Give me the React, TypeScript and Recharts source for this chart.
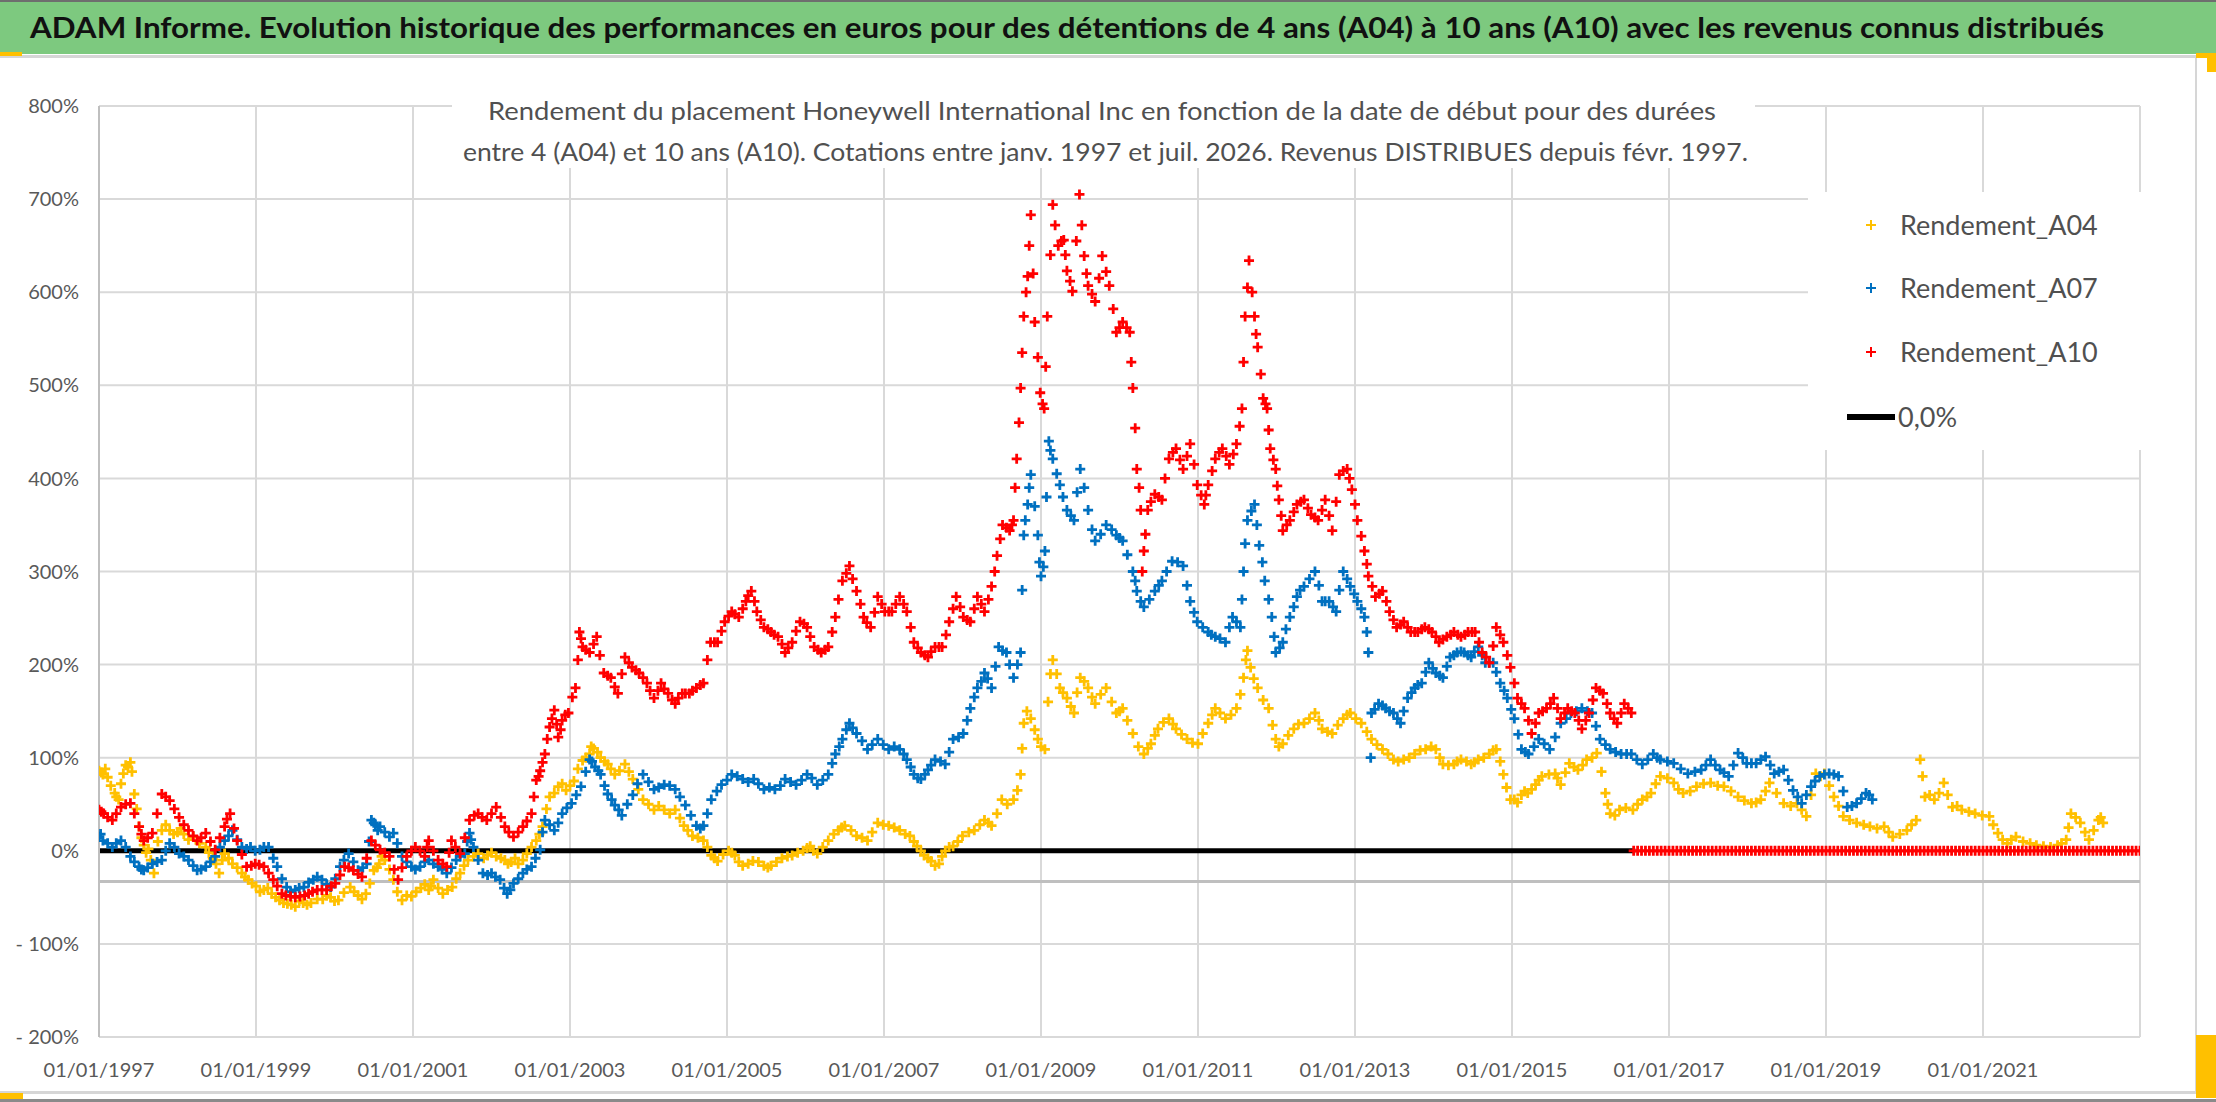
import React from "react";
import { ComposedChart, Scatter, Line, XAxis, YAxis, CartesianGrid } from "recharts";

// axis ticks
const X_TICKS = [1997, 1999, 2001, 2003, 2005, 2007, 2009, 2011, 2013, 2015, 2017, 2019, 2021];
const Y_TICKS = [-200, -100, 0, 100, 200, 300, 400, 500, 600, 700, 800];
const AXIS_CROSS = -33;

// [start date (decimal year), return %] read along the centre of each band
const A04: [number, number][] = [
  [1997.0, 86], [1997.05, 82], [1997.11, 79], [1997.2, 62], [1997.25, 55], [1997.31, 83], [1997.37, 90],
  [1997.4, 95], [1997.45, 61], [1997.51, 26], [1997.57, 6], [1997.63, 2], [1997.7, -24], [1997.8, 22],
  [1997.9, 22], [1998.0, 20], [1998.08, 18], [1998.2, 15], [1998.36, 4], [1998.45, -8], [1998.53, -24],
  [1998.6, -3], [1998.7, -14], [1998.82, -24], [1998.9, -31], [1999.0, -38], [1999.1, -42], [1999.2, -46],
  [1999.3, -53], [1999.4, -57], [1999.5, -60], [1999.6, -56], [1999.7, -56], [1999.85, -52], [1999.95, -50],
  [2000.05, -53], [2000.2, -39], [2000.3, -48], [2000.4, -46], [2000.5, -21], [2000.57, -14], [2000.64, -10],
  [2000.75, -31], [2000.86, -53], [2000.98, -49], [2001.1, -40], [2001.2, -42], [2001.26, -31], [2001.38, -46],
  [2001.5, -39], [2001.6, -24], [2001.7, -10], [2001.83, -3], [2001.95, -5], [2002.06, -6], [2002.17, -10],
  [2002.25, -12], [2002.34, -14], [2002.45, -3], [2002.57, 11], [2002.65, 26], [2002.74, 58], [2002.85, 69],
  [2002.95, 65], [2003.05, 75], [2003.16, 97], [2003.25, 104], [2003.3, 110], [2003.39, 100], [2003.48, 93],
  [2003.57, 82], [2003.7, 93], [2003.8, 77], [2003.93, 55], [2004.07, 44], [2004.2, 44], [2004.34, 44],
  [2004.45, 27], [2004.56, 16], [2004.7, 11], [2004.8, -5], [2004.88, -11], [2005.02, 0], [2005.1, -5],
  [2005.2, -16], [2005.33, -11], [2005.47, -16], [2005.56, -16], [2005.7, -8], [2005.83, -5], [2005.97, 0],
  [2006.06, 5], [2006.15, -3], [2006.29, 11], [2006.42, 22], [2006.5, 27], [2006.65, 16], [2006.79, 11],
  [2006.92, 30], [2007.06, 27], [2007.2, 22], [2007.33, 16], [2007.42, 5], [2007.51, -5], [2007.6, -11],
  [2007.7, -14], [2007.78, 0], [2007.88, 5], [2008.0, 16], [2008.15, 22], [2008.28, 33], [2008.37, 27],
  [2008.5, 55], [2008.65, 55], [2008.74, 82], [2008.78, 137], [2008.87, 142], [2008.96, 120], [2009.05, 109],
  [2009.12, 190], [2009.15, 205], [2009.24, 175], [2009.33, 164], [2009.42, 148], [2009.5, 186], [2009.6, 175],
  [2009.69, 158], [2009.83, 175], [2009.96, 148], [2010.04, 153], [2010.17, 126], [2010.31, 104], [2010.4, 115],
  [2010.49, 131], [2010.63, 142], [2010.72, 131], [2010.86, 120], [2011.0, 115], [2011.13, 137], [2011.22, 153],
  [2011.35, 142], [2011.49, 153], [2011.58, 186], [2011.63, 215], [2011.67, 197], [2011.76, 175], [2011.9, 153],
  [2011.99, 120], [2012.08, 115], [2012.22, 131], [2012.35, 137], [2012.49, 148], [2012.58, 131], [2012.71, 126],
  [2012.85, 142], [2012.94, 148], [2013.08, 137], [2013.21, 120], [2013.35, 109], [2013.49, 98], [2013.62, 98],
  [2013.76, 104], [2013.9, 109], [2014.03, 109], [2014.12, 93], [2014.26, 93], [2014.35, 98], [2014.48, 93],
  [2014.57, 98], [2014.71, 104], [2014.8, 109], [2014.89, 82], [2014.98, 55], [2015.03, 55], [2015.12, 60],
  [2015.2, 62], [2015.3, 71], [2015.38, 80], [2015.55, 83], [2015.62, 71], [2015.73, 94], [2015.84, 87],
  [2015.95, 98], [2016.08, 105], [2016.19, 62], [2016.25, 40], [2016.37, 44], [2016.54, 44], [2016.66, 55],
  [2016.77, 62], [2016.89, 80], [2017.06, 73], [2017.18, 62], [2017.35, 69], [2017.53, 73], [2017.7, 69],
  [2017.88, 58], [2018.05, 51], [2018.17, 55], [2018.28, 73], [2018.46, 51], [2018.63, 51], [2018.75, 37],
  [2018.87, 83], [2018.98, 83], [2019.1, 58], [2019.22, 37], [2019.39, 30], [2019.56, 26], [2019.74, 26],
  [2019.85, 15], [2020.03, 22], [2020.15, 33], [2020.2, 98], [2020.26, 58], [2020.38, 55], [2020.5, 73],
  [2020.61, 47], [2020.73, 44], [2020.9, 40], [2021.08, 37], [2021.19, 19], [2021.31, 8], [2021.42, 15],
  [2021.6, 8], [2021.77, 5], [2021.95, 6], [2022.06, 12], [2022.12, 40], [2022.24, 30], [2022.35, 12],
  [2022.47, 33], [2022.53, 30],
];

// extra A04 readings between the ones above (spread of the daily band)
const A04_B: [number, number][] = [
  [1997.03, 84], [1997.08, 88], [1997.15, 70], [1997.22, 58], [1997.28, 72], [1997.34, 92], [1997.42, 85],
  [1997.48, 45], [1997.54, 14], [1997.6, -2], [1997.66, -10], [1997.75, 10], [1997.85, 28], [1997.95, 18],
  [1998.04, 24], [1998.14, 12], [1998.28, 8], [1998.4, -2], [1998.49, -14], [1998.57, -10], [1998.65, -8],
  [1998.76, -18], [1998.86, -28], [1998.95, -35], [1999.05, -44], [1999.15, -40], [1999.25, -50], [1999.35, -56],
  [1999.45, -58], [1999.55, -54], [1999.65, -58], [1999.78, -52], [1999.9, -48], [2000.0, -54], [2000.12, -45],
  [2000.25, -44], [2000.35, -52], [2000.45, -35], [2000.54, -18], [2000.6, -6], [2000.7, -20], [2000.8, -44],
  [2000.92, -48], [2001.04, -44], [2001.15, -36], [2001.23, -38], [2001.32, -40], [2001.44, -42], [2001.55, -30],
  [2001.65, -16], [2001.77, -6], [2001.9, -8], [2002.0, -2], [2002.12, -8], [2002.21, -14], [2002.3, -8],
  [2002.4, -10], [2002.51, 4], [2002.61, 18], [2002.7, 45], [2002.8, 62], [2002.9, 72], [2003.0, 70],
  [2003.1, 88], [2003.2, 100], [2003.27, 112], [2003.35, 106], [2003.44, 96], [2003.52, 88], [2003.63, 86],
  [2003.75, 85], [2003.87, 66], [2004.0, 50], [2004.13, 48], [2004.27, 40], [2004.4, 35], [2004.5, 22],
  [2004.63, 14], [2004.75, 4], [2004.84, -8], [2004.95, -4], [2005.06, -2], [2005.15, -12], [2005.27, -14],
  [2005.4, -12], [2005.52, -18], [2005.63, -12], [2005.77, -6], [2005.9, -2], [2006.02, 3], [2006.1, 0],
  [2006.22, 4], [2006.36, 18], [2006.46, 25], [2006.58, 22], [2006.72, 14], [2006.85, 20], [2006.99, 28],
  [2007.13, 25], [2007.27, 18], [2007.38, 10], [2007.47, 0], [2007.56, -8], [2007.65, -16], [2007.74, -6],
  [2007.83, 4], [2007.94, 10], [2008.08, 20], [2008.22, 28], [2008.33, 30], [2008.44, 40], [2008.57, 50],
  [2008.7, 65], [2008.76, 110], [2008.82, 150], [2008.92, 130], [2009.0, 112], [2009.09, 160], [2009.2, 190],
  [2009.28, 170], [2009.38, 155], [2009.46, 170], [2009.55, 182], [2009.65, 165], [2009.76, 168], [2009.9, 160],
  [2010.0, 150], [2010.1, 140], [2010.24, 112], [2010.36, 110], [2010.45, 124], [2010.56, 138], [2010.68, 136],
  [2010.79, 125], [2010.93, 116], [2011.06, 126], [2011.18, 146], [2011.28, 148], [2011.42, 146], [2011.54, 168],
  [2011.61, 205], [2011.71, 185], [2011.83, 162], [2011.95, 135], [2012.03, 112], [2012.15, 124], [2012.28, 136],
  [2012.42, 142], [2012.54, 140], [2012.65, 128], [2012.78, 135], [2012.9, 146], [2013.01, 142], [2013.15, 128],
  [2013.28, 114], [2013.42, 104], [2013.55, 96], [2013.69, 100], [2013.83, 108], [2013.97, 112], [2014.08, 100],
  [2014.19, 92], [2014.3, 96], [2014.42, 96], [2014.52, 95], [2014.64, 100], [2014.76, 108], [2014.85, 96],
  [2014.93, 68], [2015.07, 52], [2015.16, 64], [2015.25, 66], [2015.34, 76], [2015.47, 82], [2015.58, 78],
  [2015.68, 84], [2015.79, 90], [2015.9, 92], [2016.02, 100], [2016.14, 85], [2016.22, 50], [2016.31, 38],
  [2016.45, 46], [2016.6, 50], [2016.72, 58], [2016.83, 72], [2016.98, 78], [2017.12, 66], [2017.27, 64],
  [2017.44, 72], [2017.62, 70], [2017.79, 64], [2017.96, 54], [2018.11, 52], [2018.23, 64], [2018.37, 62],
  [2018.55, 48], [2018.69, 44], [2018.81, 60], [2018.93, 80], [2019.04, 70], [2019.16, 48], [2019.3, 33],
  [2019.48, 28], [2019.65, 24], [2019.8, 20], [2019.94, 18], [2020.09, 28], [2020.23, 80], [2020.32, 60],
  [2020.44, 62], [2020.55, 60], [2020.67, 48], [2020.82, 42], [2020.99, 38], [2021.13, 28], [2021.25, 12],
  [2021.36, 12], [2021.51, 10], [2021.68, 6], [2021.86, 4], [2022.0, 8], [2022.09, 25], [2022.18, 36],
  [2022.3, 20], [2022.41, 22], [2022.5, 36],
];

const A07: [number, number][] = [
  [1997.0, 15], [1997.05, 11], [1997.17, 4], [1997.28, 11], [1997.4, -6], [1997.51, -17], [1997.57, -21],
  [1997.68, -14], [1997.8, -10], [1997.9, 8], [1998.02, -3], [1998.14, -10], [1998.25, -21], [1998.36, -17],
  [1998.48, -6], [1998.6, 11], [1998.7, 22], [1998.82, 4], [1998.93, 4], [1999.05, 1], [1999.16, 4],
  [1999.27, -17], [1999.39, -39], [1999.5, -42], [1999.61, -39], [1999.73, -31], [1999.84, -31], [1999.95, -39],
  [2000.07, -17], [2000.18, -3], [2000.3, -21], [2000.41, -14], [2000.47, 33], [2000.52, 28], [2000.58, 26],
  [2000.7, 15], [2000.75, 19], [2000.86, -6], [2000.98, -17], [2001.09, -17], [2001.2, -10], [2001.32, -17],
  [2001.43, -24], [2001.55, -10], [2001.66, -3], [2001.72, 19], [2001.77, 4], [2001.89, -24], [2002.0, -24],
  [2002.11, -31], [2002.2, -46], [2002.28, -35], [2002.4, -24], [2002.51, -17], [2002.62, 1], [2002.68, 33],
  [2002.8, 22], [2002.9, 40], [2003.02, 51], [2003.14, 69], [2003.25, 98], [2003.32, 90], [2003.39, 82],
  [2003.48, 61], [2003.57, 49], [2003.66, 38], [2003.8, 60], [2003.93, 82], [2004.07, 66], [2004.2, 71],
  [2004.34, 66], [2004.47, 49], [2004.61, 27], [2004.7, 27], [2004.8, 55], [2004.93, 71], [2005.06, 82],
  [2005.2, 77], [2005.34, 77], [2005.47, 66], [2005.61, 66], [2005.74, 77], [2005.88, 71], [2006.02, 82],
  [2006.15, 71], [2006.29, 82], [2006.38, 104], [2006.47, 120], [2006.56, 137], [2006.65, 126], [2006.79, 109],
  [2006.92, 120], [2007.06, 109], [2007.2, 109], [2007.29, 98], [2007.38, 82], [2007.47, 77], [2007.56, 87],
  [2007.65, 98], [2007.78, 93], [2007.88, 120], [2008.01, 126], [2008.1, 153], [2008.19, 175], [2008.28, 191],
  [2008.37, 175], [2008.46, 219], [2008.56, 213], [2008.65, 186], [2008.74, 213], [2008.78, 339], [2008.83, 372],
  [2008.87, 404], [2008.96, 339], [2009.0, 295], [2009.05, 322], [2009.1, 440], [2009.15, 421], [2009.24, 393],
  [2009.33, 366], [2009.42, 355], [2009.5, 410], [2009.6, 366], [2009.69, 333], [2009.83, 350], [2009.96, 339],
  [2010.04, 333], [2010.17, 300], [2010.22, 279], [2010.31, 262], [2010.45, 279], [2010.54, 290], [2010.67, 311],
  [2010.81, 306], [2010.9, 268], [2010.99, 246], [2011.13, 235], [2011.22, 230], [2011.35, 224], [2011.44, 251],
  [2011.54, 240], [2011.58, 300], [2011.63, 355], [2011.72, 372], [2011.78, 328], [2011.85, 290], [2011.94, 251],
  [2011.99, 213], [2012.08, 224], [2012.17, 251], [2012.26, 273], [2012.35, 284], [2012.49, 300], [2012.58, 268],
  [2012.67, 268], [2012.76, 257], [2012.85, 300], [2012.94, 284], [2013.03, 268], [2013.12, 251], [2013.17, 213],
  [2013.2, 100], [2013.21, 148], [2013.3, 158], [2013.39, 153], [2013.49, 148], [2013.58, 137], [2013.67, 164],
  [2013.76, 175], [2013.85, 180], [2013.94, 202], [2014.03, 191], [2014.12, 186], [2014.21, 208], [2014.3, 213],
  [2014.39, 213], [2014.48, 208], [2014.57, 219], [2014.66, 202], [2014.76, 202], [2014.85, 180], [2014.94, 164],
  [2015.03, 142], [2015.12, 109], [2015.21, 104], [2015.34, 120], [2015.48, 109], [2015.62, 137], [2015.75, 148],
  [2015.89, 153], [2016.02, 148], [2016.12, 120], [2016.25, 109], [2016.39, 104], [2016.52, 104], [2016.66, 93],
  [2016.8, 104], [2016.89, 98], [2017.06, 94], [2017.24, 83], [2017.41, 87], [2017.53, 98], [2017.65, 87],
  [2017.76, 80], [2017.88, 105], [2017.99, 94], [2018.11, 94], [2018.23, 101], [2018.34, 83], [2018.46, 87],
  [2018.58, 65], [2018.69, 51], [2018.81, 69], [2018.92, 80], [2019.04, 83], [2019.16, 80], [2019.27, 47],
  [2019.39, 51], [2019.51, 62], [2019.59, 55],
];

const A07_B: [number, number][] = [
  [1997.02, 18], [1997.11, 8], [1997.22, 8], [1997.34, 4], [1997.45, -12], [1997.54, -20], [1997.62, -18],
  [1997.74, -12], [1997.85, 0], [1997.96, 4], [1998.08, -6], [1998.2, -16], [1998.3, -20], [1998.42, -12],
  [1998.54, 4], [1998.65, 16], [1998.76, 12], [1998.88, 2], [1998.99, 0], [1999.1, 4], [1999.22, -8],
  [1999.33, -30], [1999.44, -44], [1999.55, -40], [1999.67, -34], [1999.78, -28], [1999.9, -36], [2000.01, -30],
  [2000.12, -10], [2000.24, -12], [2000.36, -18], [2000.44, 10], [2000.5, 30], [2000.55, 22], [2000.64, 20],
  [2000.8, 8], [2000.92, -12], [2001.03, -20], [2001.15, -12], [2001.26, -14], [2001.37, -20], [2001.49, -18],
  [2001.6, -6], [2001.69, 10], [2001.74, 12], [2001.83, -10], [2001.95, -26], [2002.05, -28], [2002.16, -40],
  [2002.24, -42], [2002.34, -30], [2002.45, -20], [2002.56, -8], [2002.65, 20], [2002.74, 28], [2002.85, 30],
  [2002.96, 46], [2003.08, 60], [2003.2, 85], [2003.28, 96], [2003.36, 86], [2003.44, 70], [2003.53, 55],
  [2003.62, 44], [2003.73, 50], [2003.86, 72], [2004.0, 74], [2004.13, 68], [2004.27, 70], [2004.4, 58],
  [2004.54, 38], [2004.66, 24], [2004.75, 40], [2004.87, 64], [2005.0, 76], [2005.13, 80], [2005.27, 74],
  [2005.4, 72], [2005.54, 68], [2005.68, 70], [2005.81, 74], [2005.95, 76], [2006.08, 78], [2006.22, 76],
  [2006.34, 94], [2006.43, 112], [2006.52, 130], [2006.6, 132], [2006.72, 118], [2006.85, 114], [2006.99, 114],
  [2007.13, 112], [2007.25, 104], [2007.34, 90], [2007.43, 78], [2007.52, 82], [2007.6, 92], [2007.72, 96],
  [2007.83, 106], [2007.95, 122], [2008.06, 140], [2008.15, 165], [2008.24, 182], [2008.32, 185], [2008.42, 198],
  [2008.51, 215], [2008.6, 200], [2008.7, 200], [2008.76, 280], [2008.8, 355], [2008.85, 390], [2008.92, 370],
  [2008.98, 310], [2009.03, 305], [2009.07, 380], [2009.12, 430], [2009.2, 405], [2009.28, 380], [2009.38, 360],
  [2009.46, 385], [2009.55, 390], [2009.65, 345], [2009.76, 340], [2009.9, 345], [2010.0, 336], [2010.1, 318],
  [2010.2, 290], [2010.27, 268], [2010.38, 270], [2010.5, 285], [2010.6, 300], [2010.74, 310], [2010.86, 285],
  [2010.95, 256], [2011.06, 240], [2011.17, 232], [2011.28, 228], [2011.4, 240], [2011.49, 246], [2011.56, 270],
  [2011.6, 330], [2011.68, 365], [2011.75, 350], [2011.82, 310], [2011.9, 270], [2011.97, 230], [2012.04, 218],
  [2012.12, 238], [2012.22, 262], [2012.3, 280], [2012.42, 292], [2012.54, 285], [2012.62, 268], [2012.72, 262],
  [2012.8, 280], [2012.9, 292], [2012.99, 276], [2013.08, 260], [2013.15, 235], [2013.25, 152], [2013.35, 156],
  [2013.44, 150], [2013.54, 142], [2013.62, 150], [2013.72, 170], [2013.8, 178], [2013.9, 192], [2013.99, 196],
  [2014.08, 188], [2014.17, 198], [2014.26, 210], [2014.35, 214], [2014.44, 210], [2014.52, 214], [2014.62, 210],
  [2014.71, 202], [2014.8, 192], [2014.9, 172], [2014.99, 152], [2015.08, 125], [2015.17, 106], [2015.28, 112],
  [2015.41, 115], [2015.55, 122], [2015.69, 142], [2015.82, 150], [2015.96, 150], [2016.07, 134], [2016.19, 114],
  [2016.32, 106], [2016.46, 104], [2016.59, 98], [2016.73, 98], [2016.85, 100], [2016.98, 96], [2017.15, 88],
  [2017.33, 85], [2017.47, 92], [2017.59, 92], [2017.7, 84], [2017.82, 92], [2017.94, 100], [2018.05, 94],
  [2018.17, 98], [2018.29, 92], [2018.4, 85], [2018.52, 76], [2018.64, 58], [2018.75, 60], [2018.86, 75],
  [2018.98, 82], [2019.1, 82], [2019.22, 64], [2019.33, 48], [2019.45, 56], [2019.55, 60],
];

const A10: [number, number][] = [
  [1997.0, 44], [1997.06, 40], [1997.17, 33], [1997.28, 47], [1997.4, 51], [1997.51, 26], [1997.57, 11],
  [1997.68, 19], [1997.8, 61], [1997.9, 54], [1998.02, 36], [1998.14, 22], [1998.25, 11], [1998.36, 19],
  [1998.48, 1], [1998.6, 26], [1998.67, 40], [1998.76, 11], [1998.88, -17], [1998.99, -14], [1999.1, -17],
  [1999.22, -31], [1999.33, -46], [1999.44, -49], [1999.56, -49], [1999.67, -46], [1999.78, -42], [1999.9, -42],
  [2000.01, -35], [2000.13, -17], [2000.24, -21], [2000.35, -28], [2000.47, 11], [2000.58, 1], [2000.7, -6],
  [2000.81, -31], [2000.92, -6], [2001.03, 4], [2001.15, -6], [2001.2, 11], [2001.32, -10], [2001.43, -17],
  [2001.49, 11], [2001.6, -3], [2001.72, 33], [2001.83, 40], [2001.94, 33], [2002.06, 47], [2002.17, 26],
  [2002.28, 15], [2002.4, 26], [2002.51, 40], [2002.57, 76], [2002.62, 86], [2002.68, 104], [2002.74, 133],
  [2002.8, 151], [2002.85, 122], [2002.9, 140], [2002.98, 148], [2003.07, 175], [2003.12, 235], [2003.16, 219],
  [2003.25, 213], [2003.34, 230], [2003.43, 191], [2003.52, 186], [2003.61, 169], [2003.7, 208], [2003.79, 197],
  [2003.88, 191], [2003.98, 180], [2004.07, 164], [2004.16, 180], [2004.25, 169], [2004.34, 158], [2004.43, 169],
  [2004.52, 169], [2004.61, 175], [2004.7, 180], [2004.79, 224], [2004.88, 224], [2004.97, 246], [2005.06, 257],
  [2005.15, 251], [2005.24, 268], [2005.31, 279], [2005.38, 257], [2005.47, 240], [2005.56, 235], [2005.65, 230],
  [2005.74, 213], [2005.83, 224], [2005.93, 246], [2006.02, 240], [2006.11, 219], [2006.2, 213], [2006.29, 219],
  [2006.38, 251], [2006.47, 290], [2006.56, 306], [2006.65, 279], [2006.74, 251], [2006.83, 240], [2006.92, 273],
  [2007.01, 257], [2007.1, 257], [2007.2, 273], [2007.29, 257], [2007.38, 224], [2007.47, 213], [2007.56, 208],
  [2007.65, 219], [2007.74, 219], [2007.83, 246], [2007.92, 273], [2008.01, 251], [2008.1, 246], [2008.19, 273],
  [2008.28, 257], [2008.37, 284], [2008.44, 317], [2008.51, 350], [2008.6, 344], [2008.65, 355], [2008.69, 421],
  [2008.74, 497], [2008.78, 574], [2008.83, 617], [2008.87, 683], [2008.92, 568], [2008.99, 492], [2009.04, 475],
  [2009.08, 574], [2009.15, 694], [2009.22, 650], [2009.29, 656], [2009.33, 623], [2009.4, 601], [2009.49, 705],
  [2009.55, 639], [2009.6, 607], [2009.69, 590], [2009.78, 639], [2009.87, 607], [2009.96, 557], [2010.04, 568],
  [2010.13, 557], [2010.17, 497], [2010.2, 454], [2010.22, 410], [2010.27, 366], [2010.29, 300], [2010.31, 322],
  [2010.36, 366], [2010.45, 383], [2010.54, 377], [2010.63, 421], [2010.72, 432], [2010.81, 410], [2010.9, 437],
  [2010.99, 393], [2011.08, 372], [2011.13, 393], [2011.22, 421], [2011.31, 432], [2011.4, 415], [2011.49, 437],
  [2011.56, 475], [2011.6, 574], [2011.65, 634], [2011.72, 574], [2011.76, 541], [2011.83, 486], [2011.88, 475],
  [2011.92, 432], [2011.99, 410], [2012.03, 377], [2012.08, 344], [2012.17, 355], [2012.26, 372], [2012.35, 377],
  [2012.44, 361], [2012.53, 355], [2012.62, 377], [2012.71, 344], [2012.8, 404], [2012.9, 410], [2012.96, 388],
  [2013.03, 355], [2013.12, 322], [2013.17, 295], [2013.26, 273], [2013.35, 279], [2013.44, 257], [2013.53, 240],
  [2013.62, 246], [2013.71, 235], [2013.8, 235], [2013.89, 240], [2013.98, 235], [2014.07, 224], [2014.17, 230],
  [2014.26, 235], [2014.35, 230], [2014.44, 235], [2014.53, 235], [2014.62, 213], [2014.71, 202], [2014.8, 240],
  [2014.89, 224], [2014.98, 197], [2015.07, 164], [2015.16, 153], [2015.25, 126], [2015.34, 148], [2015.44, 153],
  [2015.53, 164], [2015.62, 142], [2015.71, 153], [2015.8, 148], [2015.89, 131], [2015.98, 148], [2016.07, 175],
  [2016.16, 169], [2016.25, 148], [2016.34, 137], [2016.43, 158], [2016.52, 148],
];

const A10_B: [number, number][] = [
  [1997.03, 42], [1997.11, 36], [1997.22, 40], [1997.34, 50], [1997.45, 40], [1997.54, 18], [1997.62, 14],
  [1997.74, 40], [1997.85, 58], [1997.96, 45], [1998.08, 28], [1998.2, 16], [1998.3, 14], [1998.42, 10],
  [1998.54, 14], [1998.63, 34], [1998.72, 24], [1998.82, -4], [1998.94, -16], [1999.04, -15], [1999.16, -24],
  [1999.27, -38], [1999.38, -48], [1999.5, -50], [1999.62, -48], [1999.72, -44], [1999.84, -42], [1999.96, -38],
  [2000.07, -26], [2000.18, -18], [2000.3, -25], [2000.41, -8], [2000.52, 6], [2000.64, -2], [2000.76, -20],
  [2000.86, -18], [2000.98, 0], [2001.09, 0], [2001.18, 4], [2001.26, 0], [2001.38, -14], [2001.46, -2],
  [2001.54, 4], [2001.66, 14], [2001.78, 38], [2001.88, 36], [2002.0, 40], [2002.12, 36], [2002.22, 20],
  [2002.34, 20], [2002.45, 32], [2002.54, 58], [2002.6, 80], [2002.65, 95], [2002.71, 120], [2002.77, 142],
  [2002.83, 136], [2002.88, 130], [2002.94, 146], [2003.03, 165], [2003.1, 205], [2003.14, 228], [2003.2, 216],
  [2003.3, 222], [2003.38, 210], [2003.48, 188], [2003.57, 176], [2003.66, 190], [2003.75, 202], [2003.84, 194],
  [2003.93, 186], [2004.02, 172], [2004.12, 172], [2004.2, 174], [2004.3, 162], [2004.38, 164], [2004.47, 169],
  [2004.56, 172], [2004.66, 178], [2004.75, 205], [2004.84, 224], [2004.93, 236], [2005.02, 252], [2005.1, 254],
  [2005.2, 260], [2005.27, 274], [2005.35, 268], [2005.43, 248], [2005.52, 238], [2005.6, 232], [2005.7, 222],
  [2005.78, 218], [2005.88, 236], [2005.98, 244], [2006.06, 230], [2006.16, 216], [2006.25, 216], [2006.34, 235],
  [2006.42, 270], [2006.52, 298], [2006.6, 292], [2006.7, 265], [2006.78, 245], [2006.88, 256], [2006.97, 265],
  [2007.06, 257], [2007.15, 265], [2007.25, 265], [2007.34, 240], [2007.43, 218], [2007.52, 210], [2007.6, 214],
  [2007.7, 219], [2007.79, 232], [2007.88, 260], [2007.97, 262], [2008.06, 248], [2008.15, 260], [2008.24, 265],
  [2008.33, 270], [2008.41, 300], [2008.48, 335], [2008.56, 347], [2008.63, 350], [2008.67, 390], [2008.72, 460],
  [2008.76, 535], [2008.81, 600], [2008.85, 650], [2008.9, 620], [2008.96, 530], [2009.02, 480], [2009.06, 520],
  [2009.12, 640], [2009.18, 672], [2009.26, 655], [2009.31, 640], [2009.37, 612], [2009.45, 655], [2009.52, 672],
  [2009.58, 620], [2009.65, 598], [2009.74, 615], [2009.83, 622], [2009.92, 582], [2010.0, 562], [2010.09, 562],
  [2010.15, 525], [2010.25, 390], [2010.33, 340], [2010.4, 375], [2010.5, 380], [2010.58, 400], [2010.68, 428],
  [2010.77, 420], [2010.86, 424], [2010.95, 415], [2011.04, 382], [2011.1, 382], [2011.18, 408], [2011.27, 428],
  [2011.36, 424], [2011.45, 426], [2011.53, 456], [2011.58, 525], [2011.63, 605], [2011.69, 600], [2011.74, 555],
  [2011.8, 512], [2011.86, 480], [2011.9, 452], [2011.96, 420], [2012.01, 392], [2012.06, 360], [2012.13, 350],
  [2012.22, 364], [2012.31, 375], [2012.4, 368], [2012.49, 358], [2012.58, 366], [2012.67, 360], [2012.76, 375],
  [2012.85, 408], [2012.93, 400], [2013.0, 372], [2013.08, 338], [2013.15, 308], [2013.22, 284], [2013.31, 276],
  [2013.4, 268], [2013.49, 248], [2013.58, 243], [2013.67, 240], [2013.76, 235], [2013.85, 238], [2013.94, 238],
  [2014.03, 230], [2014.12, 227], [2014.22, 232], [2014.31, 232], [2014.4, 232], [2014.49, 235], [2014.58, 224],
  [2014.67, 208], [2014.76, 220], [2014.85, 232], [2014.94, 210], [2015.03, 180], [2015.12, 158], [2015.21, 140],
  [2015.3, 137], [2015.39, 150], [2015.49, 158], [2015.58, 153], [2015.67, 148], [2015.76, 150], [2015.85, 140],
  [2015.94, 140], [2016.03, 162], [2016.12, 172], [2016.21, 158], [2016.3, 142], [2016.39, 148], [2016.48, 153],
];

// A10 has no known value after mid-2016: the sheet plots those dates at 0
const A10_TAIL: [number, number][] = [
  [2016.55, 0], [2016.6, 0], [2016.65, 0], [2016.7, 0], [2016.75, 0], [2016.8, 0], [2016.85, 0], [2016.9, 0],
  [2016.95, 0], [2017.0, 0], [2017.05, 0], [2017.1, 0], [2017.15, 0], [2017.2, 0], [2017.25, 0], [2017.3, 0],
  [2017.35, 0], [2017.4, 0], [2017.45, 0], [2017.5, 0], [2017.55, 0], [2017.6, 0], [2017.65, 0], [2017.7, 0],
  [2017.75, 0], [2017.8, 0], [2017.85, 0], [2017.9, 0], [2017.95, 0], [2018.0, 0], [2018.05, 0], [2018.1, 0],
  [2018.15, 0], [2018.2, 0], [2018.25, 0], [2018.3, 0], [2018.35, 0], [2018.4, 0], [2018.45, 0], [2018.5, 0],
  [2018.55, 0], [2018.6, 0], [2018.65, 0], [2018.7, 0], [2018.75, 0], [2018.8, 0], [2018.85, 0], [2018.9, 0],
  [2018.95, 0], [2019.0, 0], [2019.05, 0], [2019.1, 0], [2019.15, 0], [2019.2, 0], [2019.25, 0], [2019.3, 0],
  [2019.35, 0], [2019.4, 0], [2019.45, 0], [2019.5, 0], [2019.55, 0], [2019.6, 0], [2019.65, 0], [2019.7, 0],
  [2019.75, 0], [2019.8, 0], [2019.85, 0], [2019.9, 0], [2019.95, 0], [2020.0, 0], [2020.05, 0], [2020.1, 0],
  [2020.15, 0], [2020.2, 0], [2020.25, 0], [2020.3, 0], [2020.35, 0], [2020.4, 0], [2020.45, 0], [2020.5, 0],
  [2020.55, 0], [2020.6, 0], [2020.65, 0], [2020.7, 0], [2020.75, 0], [2020.8, 0], [2020.85, 0], [2020.9, 0],
  [2020.95, 0], [2021.0, 0], [2021.05, 0], [2021.1, 0], [2021.15, 0], [2021.2, 0], [2021.25, 0], [2021.3, 0],
  [2021.35, 0], [2021.4, 0], [2021.45, 0], [2021.5, 0], [2021.55, 0], [2021.6, 0], [2021.65, 0], [2021.7, 0],
  [2021.75, 0], [2021.8, 0], [2021.85, 0], [2021.9, 0], [2021.95, 0], [2022.0, 0], [2022.05, 0], [2022.1, 0],
  [2022.15, 0], [2022.2, 0], [2022.25, 0], [2022.3, 0], [2022.35, 0], [2022.4, 0], [2022.45, 0], [2022.5, 0],
  [2022.55, 0], [2022.6, 0], [2022.65, 0], [2022.7, 0], [2022.75, 0], [2022.8, 0], [2022.85, 0], [2022.9, 0],
  [2022.95, 0], [2023.0, 0],
];

const ZERO_LINE: [number, number][] = [[1997, 0], [2016.57, 0]];
const AXIS_LINE: [number, number][] = [[1997, AXIS_CROSS], [2023, AXIS_CROSS]];

const YELLOW = "#FFC000";
const BLUE = "#0070C0";
const RED = "#FF0000";
const TEXT = "#595959";
const FONT = "Lato, 'Open Sans', sans-serif";

const toPoints = (rows: [number, number][]) => rows.map(([x, y]) => ({ x, y }));

const plus = (color: string) => (props: any) => {
  const { cx, cy } = props;
  if (cx == null || cy == null) return <g />;
  return (
    <path
      d={`M${cx - 5},${cy}h10M${cx},${cy - 5}v10`}
      stroke={color}
      strokeWidth={2.8}
      fill="none"
    />
  );
};

const pct = (v: number) => (v < 0 ? `- ${Math.abs(v)}%` : `${v}%`);

function Legend() {
  const items = [
    { label: "Rendement_A04", color: YELLOW, y: 225 },
    { label: "Rendement_A07", color: BLUE, y: 288 },
    { label: "Rendement_A10", color: RED, y: 352 },
  ];
  return (
    <g>
      <rect x={1808} y={192} width={342} height={258} fill="#fff" />
      {items.map((it) => (
        <g key={it.label}>
          <path d={`M${1866},${it.y}h10M${1871},${it.y - 5}v10`} stroke={it.color} strokeWidth={2} />
          <text x={1900} y={it.y + 10} fontSize={27} fill="#505050" fontFamily={FONT}>
            {it.label}
          </text>
        </g>
      ))}
      <line x1={1847} x2={1895} y1={417} y2={417} stroke="#000" strokeWidth={6} />
      <text x={1898} y={427} fontSize={27} fill="#505050" fontFamily={FONT}>
        0,0%
      </text>
    </g>
  );
}

export default function App() {
  return (
    <div style={{ position: "absolute", left: 0, top: 0, width: 2216, height: 1102, background: "#fff" }}>
      <ComposedChart
        width={2216}
        height={1102}
        margin={{ top: 106, right: 76, bottom: 5, left: 0 }}
      >
        <CartesianGrid stroke="#D9D9D9" strokeWidth={2} />
        <XAxis
          type="number"
          dataKey="x"
          domain={[1997, 2023]}
          ticks={X_TICKS}
          interval={0}
          allowDataOverflow
          height={60}
          tickSize={0}
          tickMargin={26}
          axisLine={false}
          tickLine={false}
          tickFormatter={(v: number) => `01/01/${v}`}
          tick={{ fontSize: 20, fill: TEXT, fontFamily: FONT }}
        />
        <YAxis
          type="number"
          dataKey="y"
          domain={[-200, 800]}
          ticks={Y_TICKS}
          interval={0}
          allowDataOverflow
          width={99}
          tickSize={0}
          tickMargin={20}
          axisLine={{ stroke: "#BFBFBF", strokeWidth: 2 }}
          tickLine={false}
          tickFormatter={pct}
          tick={{ fontSize: 20, fill: TEXT, fontFamily: FONT }}
        />
        <Line
          data={toPoints(AXIS_LINE)}
          dataKey="y"
          stroke="#BFBFBF"
          strokeWidth={3}
          dot={false}
          isAnimationActive={false}
        />
        <Scatter data={toPoints([...A04, ...A04_B])} dataKey="y" shape={plus(YELLOW)} isAnimationActive={false} />
        <Scatter data={toPoints([...A07, ...A07_B])} dataKey="y" shape={plus(BLUE)} isAnimationActive={false} />
        <Scatter
          data={toPoints([...A10, ...A10_B, ...A10_TAIL])}
          dataKey="y"
          shape={plus(RED)}
          isAnimationActive={false}
        />
        <Line
          data={toPoints(ZERO_LINE)}
          dataKey="y"
          stroke="#000"
          strokeWidth={5}
          dot={false}
          isAnimationActive={false}
        />
      </ComposedChart>
      <svg
        width={2216}
        height={1102}
        style={{ position: "absolute", left: 0, top: 0, pointerEvents: "none" }}
      >
        <rect x={0} y={0} width={2216} height={54} fill="#7DC97F" />
        <rect x={0} y={0} width={2216} height={2} fill="#6E6E6E" />
        <rect x={0} y={55} width={2216} height={3} fill="#D6D6D6" />
        <rect x={0} y={52} width={22} height={4} fill={YELLOW} />
        <rect x={2196} y={53} width={20} height={5} fill={YELLOW} />
        <rect x={2207} y={53} width={9} height={19} fill={YELLOW} />
        <rect x={2195} y={58} width={2} height={1034} fill="#D6D6D6" />
        <rect x={0} y={1091} width={2216} height={3} fill="#D6D6D6" />
        <rect x={0} y={1093} width={23} height={6} fill={YELLOW} />
        <rect x={2196} y={1035} width={20} height={63} fill={YELLOW} />
        <rect x={0} y={1099} width={2216} height={3} fill="#8A8A8A" />
        <text
          x={30}
          y={38}
          fontSize={29}
          fontWeight="bold"
          fill="#111"
          fontFamily={FONT}
          textLength={2074}
          lengthAdjust="spacingAndGlyphs"
        >
          ADAM Informe. Evolution historique des performances en euros pour des détentions de 4 ans (A04) à 10 ans (A10) avec les revenus connus distribués
        </text>
        <rect x={452} y={62} width={1303} height={106} fill="#fff" />
        <text
          x={488}
          y={120}
          fontSize={25}
          fill="#505050"
          fontFamily={FONT}
          textLength={1228}
          lengthAdjust="spacingAndGlyphs"
        >
          Rendement du placement Honeywell International Inc en fonction de la date de début pour des durées
        </text>
        <text
          x={463}
          y={161}
          fontSize={25}
          fill="#505050"
          fontFamily={FONT}
          textLength={1285}
          lengthAdjust="spacingAndGlyphs"
        >
          entre 4 (A04) et 10 ans (A10). Cotations entre janv. 1997 et juil. 2026. Revenus DISTRIBUES depuis févr. 1997.
        </text>
        <Legend />
      </svg>
    </div>
  );
}
